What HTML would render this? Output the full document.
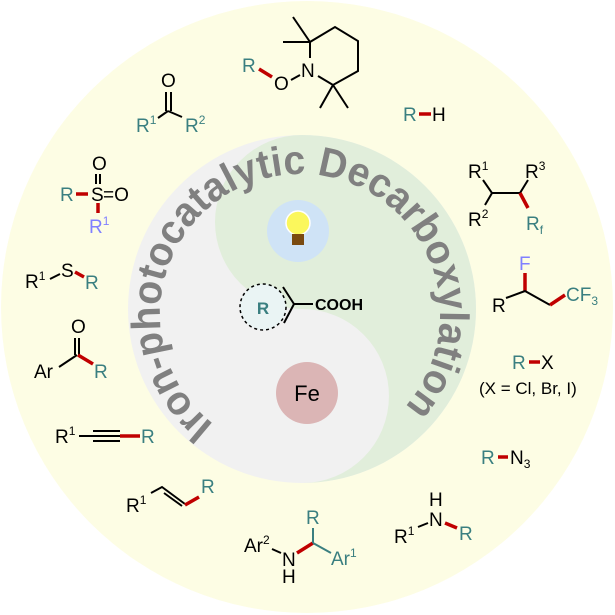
<!DOCTYPE html>
<html><head><meta charset="utf-8"><style>
html,body{margin:0;padding:0;background:#fff}
svg{display:block}
text{font-family:"Liberation Sans",Arial,sans-serif}
.t{fill:#3a7f80}.k{fill:#000}.l{fill:#8080ff}
.b{stroke:#000;stroke-width:2;fill:none}
.r{stroke:#c00000;stroke-width:3.5;fill:none}
.tb{stroke:#3a7f80;stroke-width:2;fill:none}
</style></head><body>
<svg width="615" height="615" viewBox="0 0 615 615" xmlns="http://www.w3.org/2000/svg">
<circle cx="307" cy="307" r="306" fill="#fdfde4"/>
<circle cx="302" cy="309" r="174" fill="#f1f1f1"/>
<path d="M302,135 A174,174 0 0 1 302,483 A87,87 0 0 0 302,309 A87,87 0 0 1 302,135 Z" fill="#e1eedb"/>
<circle cx="298" cy="231" r="31" fill="#cfe3f6"/>
<circle cx="298" cy="223" r="12" fill="#fbf75c" stroke="#fff" stroke-width="1.5"/>
<rect x="292" y="234" width="12" height="11" fill="#7a4a10"/>
<circle cx="307" cy="393" r="31" fill="#dbb5b5"/>
<text x="307" y="401" font-size="22" text-anchor="middle" class="k">Fe</text>
<circle cx="263" cy="307" r="23" fill="#eaf4f4" stroke="#000" stroke-width="1.5" stroke-dasharray="3,3"/>
<text x="263" y="314" font-size="17" font-weight="bold" text-anchor="middle" class="t">R</text>
<path class="b" d="M283,287 L294,304 L284,323 M294,304 L313,304"/>
<text x="315" y="310" font-size="16" font-weight="bold" class="k">COOH</text>
<defs><path id="arc" d="M213.8,424.3 A140,140 0 1 1 390,421.2"/></defs>
<text font-size="41" font-weight="bold" fill="#808080"><textPath href="#arc" textLength="668" lengthAdjust="spacingAndGlyphs">Iron-photocatalytic Decarboxylation</textPath></text>

<g font-size="19">
<!-- TEMPO -->
<text x="242" y="72" class="t">R</text>
<line class="r" x1="259" y1="69" x2="272" y2="77"/>
<text x="274" y="90" class="k">O</text>
<line class="b" x1="291" y1="80" x2="300" y2="75"/>
<text x="301" y="77" class="k">N</text>
<path class="b" d="M310,58 L310,42 L335,27 L358,41 L358,71 L333,85 L318,76 M310,42 L283,42 M310,42 L293,17 M333,85 L320,108 M333,85 L348,108"/>
<!-- ketone -->
<text x="161" y="87" class="k">O</text>
<path class="b" d="M166,92 V111 M171,92 V111 M168,111 L158,118 M168,111 L182,117"/>
<text x="136" y="132" class="t">R<tspan font-size="12" dy="-8">1</tspan></text>
<text x="185" y="132" class="t">R<tspan font-size="12" dy="-8">2</tspan></text>
<!-- sulfone -->
<text x="92" y="170" class="k">O</text>
<path class="b" d="M96,174 V184 M100,174 V184"/>
<text x="91" y="201" class="k">S</text>
<text x="103" y="201" class="k">=O</text>
<text x="60" y="201" class="t">R</text>
<line class="r" x1="76" y1="194" x2="88" y2="194"/>
<line class="r" x1="98" y1="203" x2="98" y2="213"/>
<text x="89" y="233" class="l">R<tspan font-size="12" dy="-8">1</tspan></text>
<!-- thioether -->
<text x="25" y="288" class="k">R<tspan font-size="12" dy="-8">1</tspan></text>
<line class="b" x1="50" y1="279" x2="60" y2="274"/>
<text x="61" y="277" class="k">S</text>
<line class="r" x1="75" y1="272" x2="84" y2="277"/>
<text x="85" y="289" class="t">R</text>
<!-- aryl ketone -->
<text x="71" y="333" class="k">O</text>
<path class="b" d="M75,338 V355 M79,338 V355 M77,355 L59,367"/>
<line class="r" x1="78" y1="355" x2="93" y2="364"/>
<text x="34" y="378" class="k">Ar</text>
<text x="94" y="378" class="t">R</text>
<!-- alkyne -->
<text x="55" y="443" class="k">R<tspan font-size="12" dy="-8">1</tspan></text>
<path class="b" d="M79,436 H120 M93,431 H120 M93,441 H120"/>
<line class="r" x1="120" y1="436" x2="140" y2="436"/>
<text x="141" y="443" class="t">R</text>
<!-- alkene -->
<text x="126" y="512" class="k">R<tspan font-size="12" dy="-8">1</tspan></text>
<path class="b" d="M151,493 L162,487 L185,504 M164,493 L182,506"/>
<line class="r" x1="185" y1="505" x2="199" y2="497"/>
<text x="201" y="493" class="t">R</text>
<!-- Ar2 NH C Ar1 -->
<text x="244" y="552" class="k">Ar<tspan font-size="12" dy="-8">2</tspan></text>
<line class="b" x1="272" y1="549" x2="281" y2="553"/>
<text x="282" y="566" class="k">N</text>
<text x="282" y="583" class="k">H</text>
<line class="r" x1="297" y1="553" x2="313" y2="543"/>
<path class="tb" d="M313,543 V528 M313,543 L331,553"/>
<text x="306" y="524" class="t">R</text>
<text x="331" y="565" class="t">Ar<tspan font-size="12" dy="-8">1</tspan></text>
<!-- R1 NH R -->
<text x="394" y="543" class="k">R<tspan font-size="12" dy="-8">1</tspan></text>
<line class="b" x1="418" y1="527" x2="428" y2="523"/>
<text x="429" y="526" class="k">N</text>
<text x="429" y="506" class="k">H</text>
<line class="r" x1="445" y1="523" x2="457" y2="528"/>
<text x="459" y="540" class="t">R</text>
<!-- R-N3 -->
<text x="481" y="464" class="t">R</text>
<line class="r" x1="498" y1="457" x2="508" y2="457"/>
<text x="510" y="464" class="k">N<tspan font-size="12" dy="4">3</tspan></text>
<!-- R-X -->
<text x="512" y="369" class="t">R</text>
<line class="r" x1="529" y1="362" x2="540" y2="362"/>
<text x="541" y="369" class="k">X</text>
<text x="479" y="394" class="k" font-size="17">(X = Cl, Br, I)</text>
<!-- R-H -->
<text x="403" y="121" class="t">R</text>
<line class="r" x1="419" y1="114" x2="431" y2="114"/>
<text x="432" y="121" class="k">H</text>
<!-- Rf -->
<text x="468" y="178" class="k">R<tspan font-size="12" dy="-8">1</tspan></text>
<text x="525" y="178" class="k">R<tspan font-size="12" dy="-8">3</tspan></text>
<text x="468" y="226" class="k">R<tspan font-size="12" dy="-8">2</tspan></text>
<path class="b" d="M483,180 L492,193 L485,205 M492,193 L520,193 L528,180"/>
<line class="r" x1="520" y1="193" x2="528" y2="208"/>
<text x="526" y="230" class="t">R<tspan font-size="12" dy="4">f</tspan></text>
<!-- CF3 -->
<text x="519" y="270" class="l">F</text>
<line class="r" x1="525" y1="273" x2="525" y2="291"/>
<path class="b" d="M506,298 L525,291 L550,305"/>
<line class="r" x1="550" y1="305" x2="565" y2="295"/>
<text x="492" y="312" class="k">R</text>
<text x="566" y="301" class="t">CF<tspan font-size="12" dy="4">3</tspan></text>
</g>
</svg>
</body></html>
